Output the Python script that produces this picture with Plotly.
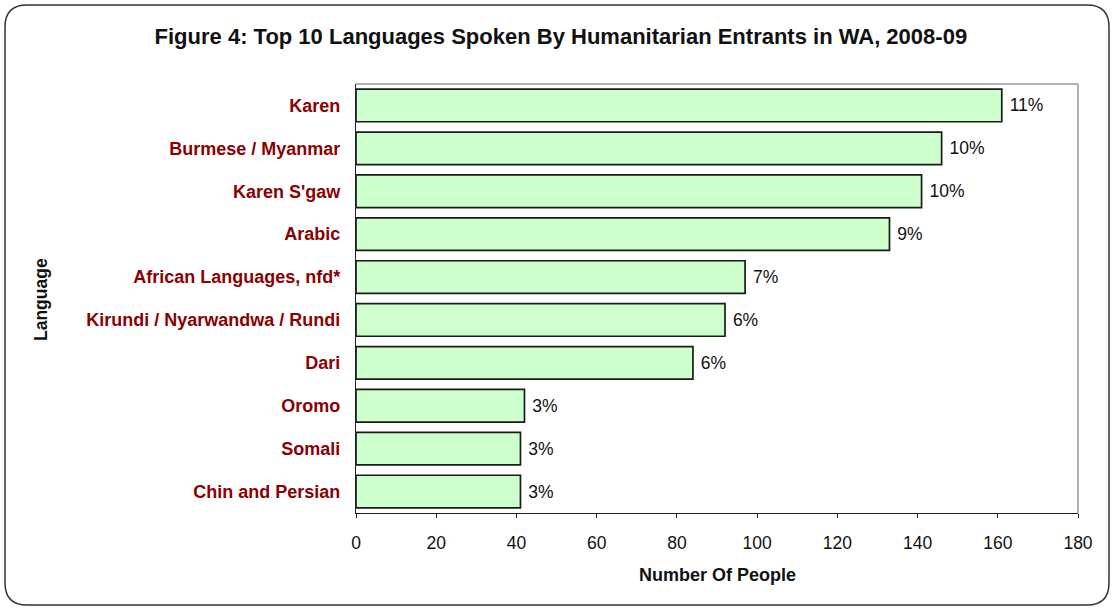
import plotly.graph_objects as go

languages = ["Karen", "Burmese / Myanmar", "Karen S'gaw", "Arabic",
             "African Languages, nfd*", "Kirundi / Nyarwandwa / Rundi",
             "Dari", "Oromo", "Somali", "Chin and Persian"]
people = [161, 146, 141, 133, 97, 92, 84, 42, 41, 41]
share_labels = ["11%", "10%", "10%", "9%", "7%", "6%", "6%", "3%", "3%", "3%"]
x_ticks = [0, 20, 40, 60, 80, 100, 120, 140, 160, 180]

W, H = 1115, 610
L, R, T, B = 356, 1078, 84, 513
pw, ph = R - L, B - T
FONT = "Arial, Liberation Sans, sans-serif"

def px(x):
    return (x - L) / pw

def py(y):
    return (B - y) / ph

fig = go.Figure(go.Bar(
    y=languages, x=people, orientation="h",
    marker=dict(color="#CCFFCC", line=dict(color="#1a1a1a", width=1.7)),
    text=share_labels, texttemplate="\u00a0%{text}", textposition="outside",
    textfont=dict(family=FONT, size=17.5, color="#111111"),
    cliponaxis=False, hoverinfo="skip",
))

# rounded outer border
x0, x1, y0, y1, r = 5, 1109, 5, 605, 22
path = (f"M {px(x0 + r)} {py(y0)} L {px(x1 - r)} {py(y0)} "
        f"Q {px(x1)} {py(y0)} {px(x1)} {py(y0 + r)} "
        f"L {px(x1)} {py(y1 - r)} Q {px(x1)} {py(y1)} {px(x1 - r)} {py(y1)} "
        f"L {px(x0 + r)} {py(y1)} Q {px(x0)} {py(y1)} {px(x0)} {py(y1 - r)} "
        f"L {px(x0)} {py(y0 + r)} Q {px(x0)} {py(y0)} {px(x0 + r)} {py(y0)} Z")

fig.update_layout(
    width=W, height=H,
    margin=dict(l=L, r=W - R, t=T, b=H - B),
    paper_bgcolor="white", plot_bgcolor="white",
    showlegend=False, bargap=0.24,
    font=dict(family=FONT),
    title=dict(text="<b>Figure 4: Top 10 Languages Spoken By Humanitarian Entrants in WA, 2008-09</b>",
               x=0.503, xanchor="center", y=1 - 36 / H, yanchor="middle",
               font=dict(size=22, color="#111111", family=FONT)),
    xaxis=dict(range=[0, 180], tickvals=x_ticks, showgrid=False, zeroline=False,
               showline=True, linecolor="#222222", linewidth=1.3,
               ticks="outside", ticklen=4, tickcolor="#222222",
               ticklabelstandoff=10,
               tickfont=dict(size=17.5, color="#111111")),
    yaxis=dict(categoryorder="array", categoryarray=languages[::-1],
               showgrid=False, showline=True, linecolor="#222222", linewidth=1.3,
               ticks="", ticklabelstandoff=11,
               tickfont=dict(size=18, color="#8B0000", weight="bold")),
    shapes=[
        dict(type="path", path=path, xref="paper", yref="paper",
             line=dict(color="#333333", width=1.5), layer="below"),
        dict(type="line", xref="paper", yref="paper", x0=0, x1=1, y0=1, y1=1,
             line=dict(color="#999999", width=1.5)),
        dict(type="line", xref="paper", yref="paper", x0=1, x1=1, y0=0, y1=1,
             line=dict(color="#999999", width=1.5)),
    ],
    annotations=[
        dict(text="<b>Language</b>", textangle=-90, xref="paper", yref="paper",
             x=px(41), y=py(300), xanchor="center", yanchor="middle", showarrow=False,
             font=dict(size=17.5, color="#111111")),
        dict(text="<b>Number Of People</b>", xref="paper", yref="paper",
             x=px(717), y=py(575), xanchor="center", yanchor="middle", showarrow=False,
             font=dict(size=18, color="#111111")),
    ],
)

fig.write_html("out.html", config={"displayModeBar": False},
               post_script="document.body.style.margin='0';document.body.style.overflow='hidden';")
